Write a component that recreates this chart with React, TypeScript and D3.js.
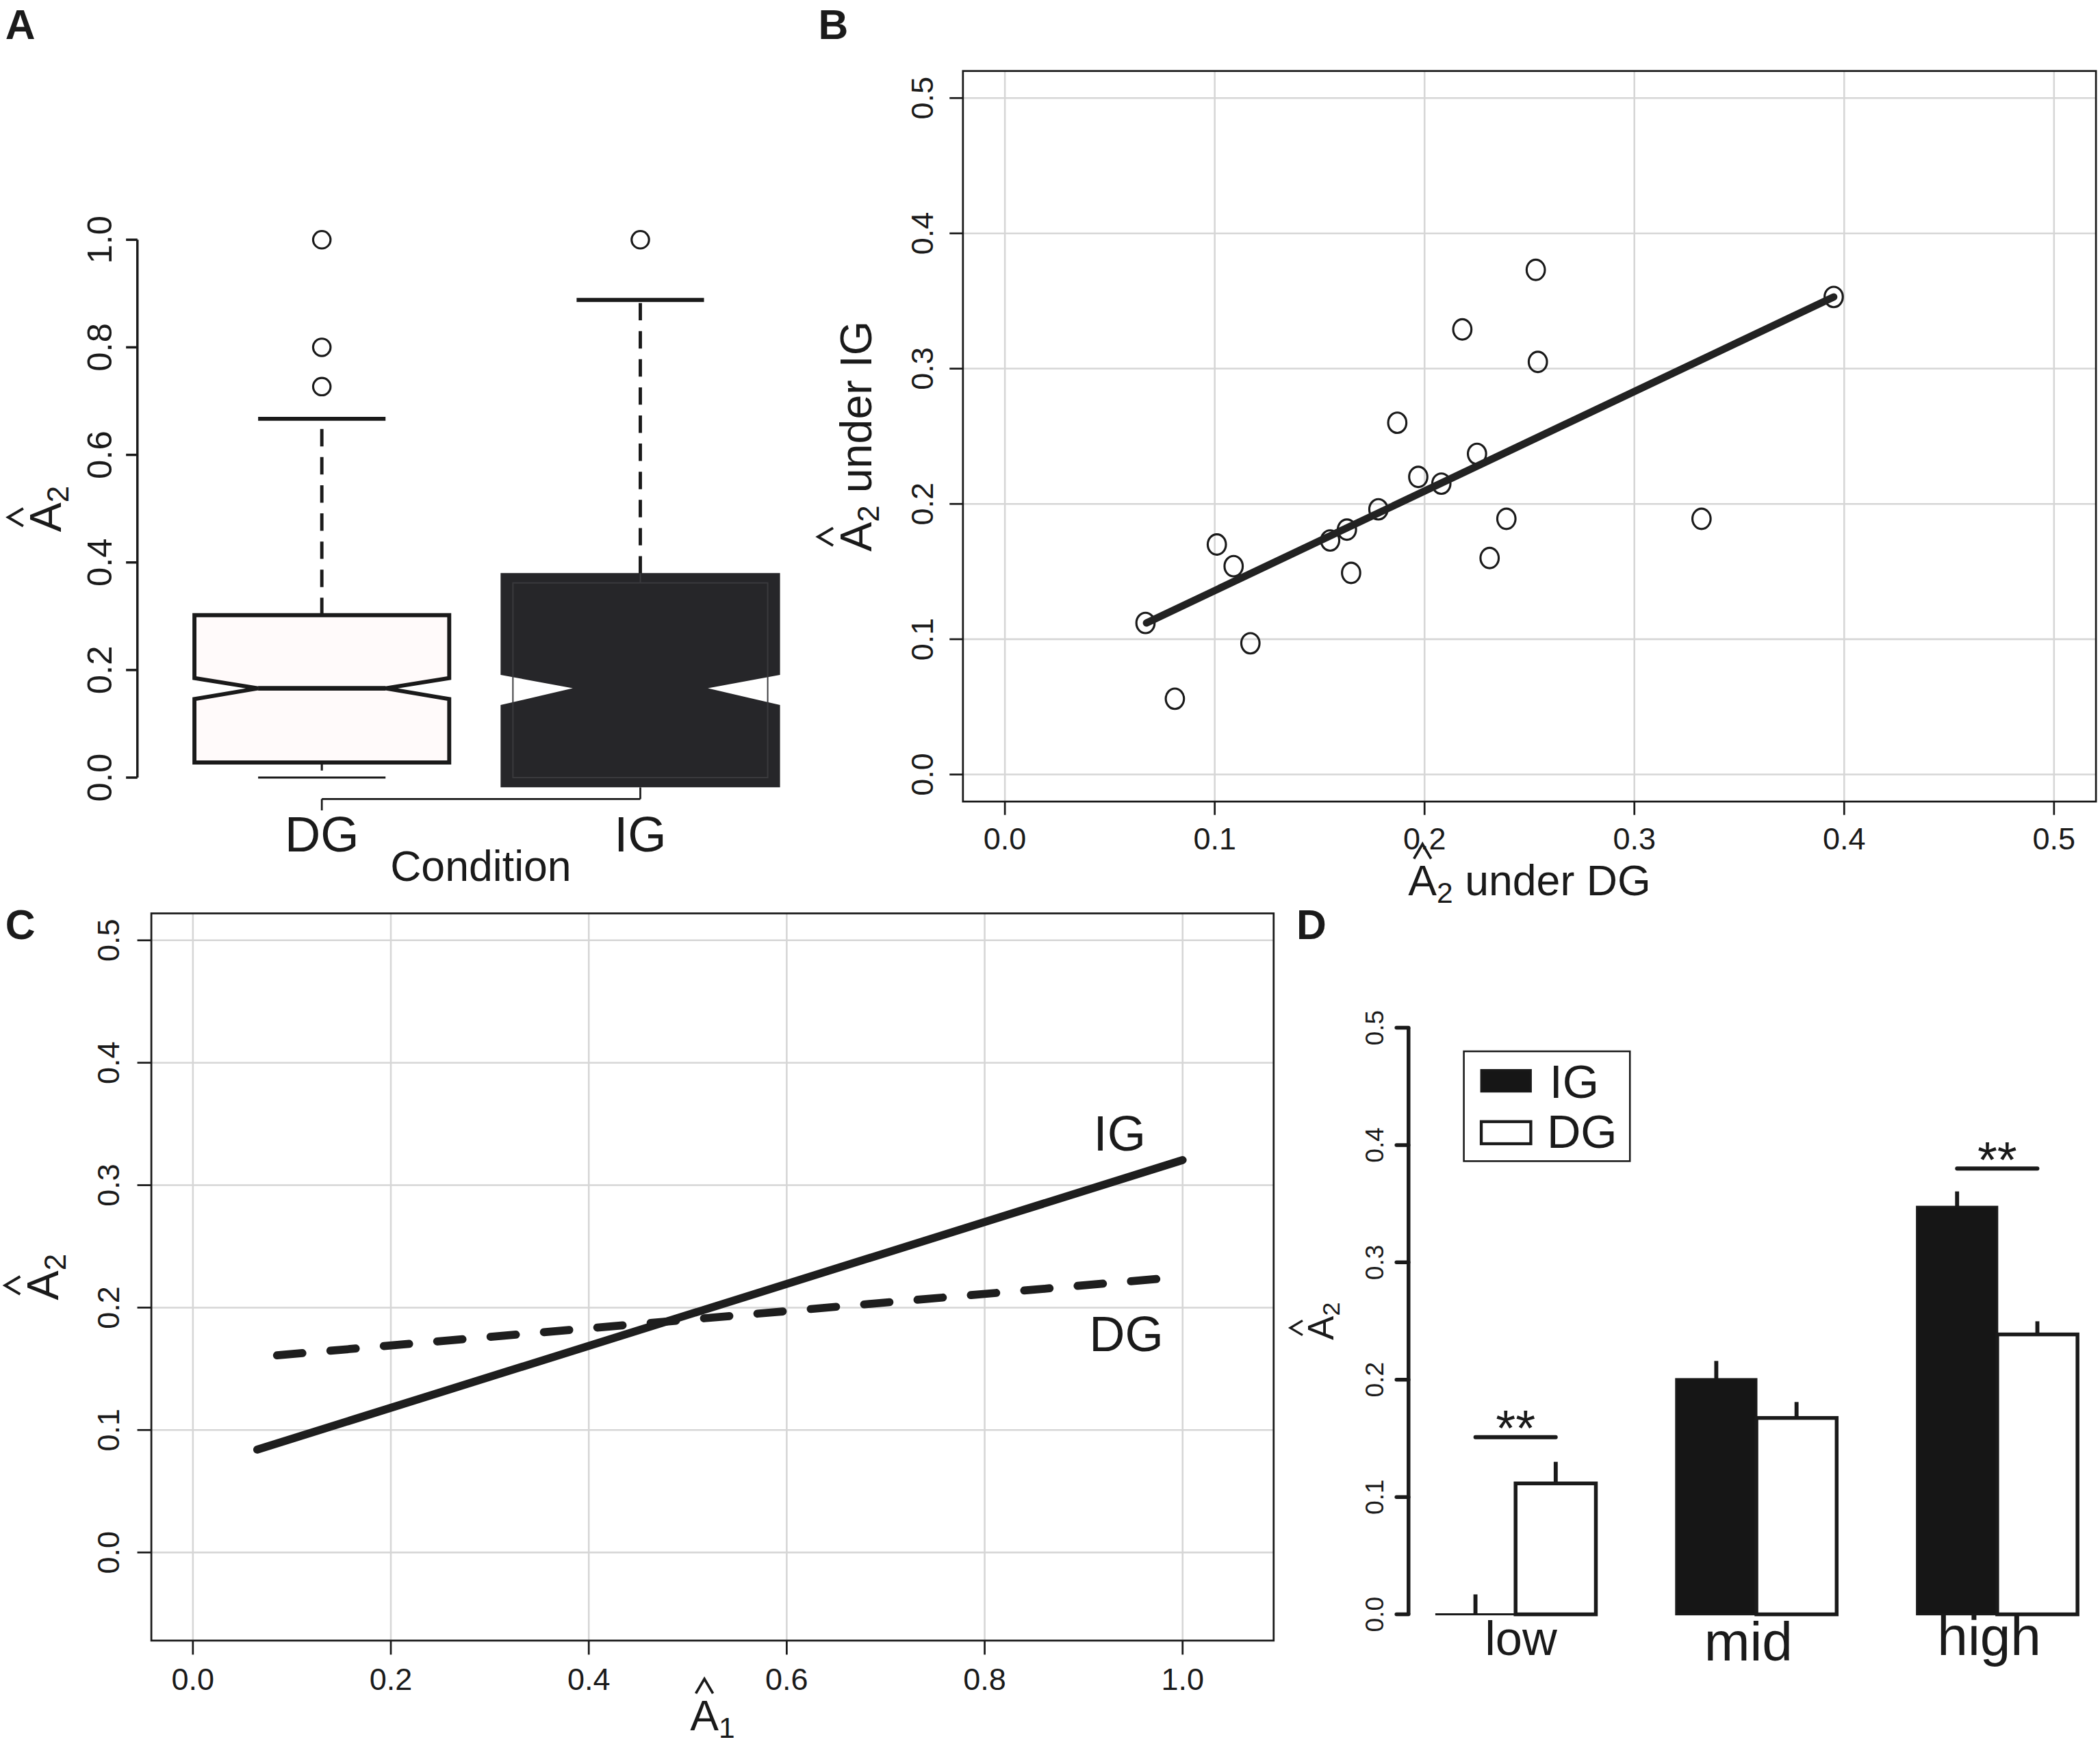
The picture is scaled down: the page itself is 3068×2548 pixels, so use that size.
import * as d3 from "d3";

// ---- panel A: notched boxplots of A2 by condition ----
const conditions = ["DG", "IG"];
const dgBox = { lower: 0, q1: 0.028, notchLo: 0.146, median: 0.166, notchHi: 0.185, q3: 0.302, upper: 0.667 };
const igBox = { lower: 0, q1: 0, notchLo: 0.135, median: 0.166, notchHi: 0.191, q3: 0.362, upper: 0.888 };
const dgOutliers = [1.0, 0.8, 0.727];
const igOutliers = [1.0];
const aTicks = [0, 0.2, 0.4, 0.6, 0.8, 1.0];

// ---- panel B: A2 under DG vs A2 under IG ----
const dgScores = [0.067, 0.081, 0.101, 0.109, 0.117, 0.155, 0.163, 0.165, 0.178, 0.187, 0.197, 0.208, 0.218, 0.225, 0.231, 0.239, 0.253, 0.254, 0.332, 0.395];
const igScores = [0.112, 0.056, 0.170, 0.154, 0.097, 0.173, 0.181, 0.149, 0.196, 0.260, 0.220, 0.215, 0.329, 0.237, 0.160, 0.189, 0.373, 0.305, 0.189, 0.353];
const fitX = [0.0675, 0.395];
const fitY = [0.112, 0.353];
const bTicks = [0, 0.1, 0.2, 0.3, 0.4, 0.5];

// ---- panel C: fitted A2 against A1 ----
const a1Ends = { IG: [0.065, 1.0], DG: [0.085, 0.983] };
const a2Ends = { IG: [0.084, 0.3205], DG: [0.161, 0.224] };
const cxTicks = [0, 0.2, 0.4, 0.6, 0.8, 1.0];
const cyTicks = [0, 0.1, 0.2, 0.3, 0.4, 0.5];

// ---- panel D: mean A2 by A1 level ----
const levels = ["low", "mid", "high"];
const groups = ["IG", "DG"];
const igMeans = [0, 0.2005, 0.3474];
const dgMeans = [0.1116, 0.1674, 0.2386];
const igSE = [0.017, 0.0155, 0.0131];
const dgSE = [0.0184, 0.0136, 0.0112];
const sigMarks = [
  { level: "low", y: 0.151, label: "**" },
  { level: "high", y: 0.38, label: "**" },
];
const dTicks = [0, 0.1, 0.2, 0.3, 0.4, 0.5];

const W = 1568;
const H = 1302.2;
const FONT = '"Liberation Sans", Arial, Helvetica, sans-serif';
const INK = "#1a1a1a";
const GRID = "#d6d6d6";
const fmt = d3.format(".1f");
// the level labels under panel D are not all set at the same size
const levelFont: Record<string, number> = { low: 36, mid: 41, high: 41 };

let ctx: CanvasRenderingContext2D | null = null;
function measure(text: string, size: number) {
  if (!ctx) ctx = document.createElement("canvas").getContext("2d");
  if (!ctx) return text.length * size * 0.55;
  ctx.font = `${size}px "Liberation Sans"`;
  return ctx.measureText(text).width;
}

// "A" with a hat and a subscript, optionally followed by more words (plotmath style)
function HatLabel({ x, y, size, sub, rest = "", rotate = false }: any) {
  const subSize = size * 0.68;
  const wA = measure("A", size);
  const wS = measure(sub, subSize);
  const wSp = rest ? measure(" ", size) : 0;
  const wR = rest ? measure(rest, size) : 0;
  const x0 = -(wA + wS + wSp + wR) / 2;
  const hx = x0 + wA / 2;
  const hb = -0.86 * size;
  const ht = -1.2 * size;
  const hw = 0.2 * size;
  return (
    <g transform={`translate(${x},${y})${rotate ? " rotate(-90)" : ""}`} fill={INK}>
      <text x={x0} y={0} fontSize={size}>A</text>
      <text x={x0 + wA} y={0.17 * size} fontSize={subSize}>{sub}</text>
      {rest ? <text x={x0 + wA + wS + wSp} y={0} fontSize={size}>{rest}</text> : null}
      <path d={`M${hx - hw},${hb} L${hx},${ht} L${hx + hw},${hb}`} fill="none" stroke={INK} strokeWidth={0.06 * size} />
    </g>
  );
}

function PanelA() {
  const x = d3.scalePoint<string>().domain(conditions).range([240.3, 478.1]);
  const y = d3.scaleLinear().domain([0, 1]).range([580.6, 179]);
  const step = x("IG")! - x("DG")!;
  const hw = step * 0.4;
  const cap = hw / 2;
  const axisX = 102.6;
  const bracketY = y(0) + 16;

  const notched = (cx: number, b: any, padX = 0, padY = 0, apex = hw / 2) => {
    const s = hw + padX;
    const top = y(b.q3) - padY;
    const bot = y(b.q1) + padY;
    return `M${cx - s},${top} L${cx + s},${top} L${cx + s},${y(b.notchHi)} L${cx + apex},${y(b.median)} L${cx + s},${y(b.notchLo)} L${cx + s},${bot} L${cx - s},${bot} L${cx - s},${y(b.notchLo)} L${cx - apex},${y(b.median)} L${cx - s},${y(b.notchHi)} Z`;
  };

  const dx = x("DG")!;
  const ix = x("IG")!;
  return (
    <g>
      <text x={4} y={29} fontSize={31} fontWeight={700} fill={INK}>A</text>
      {/* y axis */}
      <line x1={axisX} x2={axisX} y1={y(0)} y2={y(1)} stroke={INK} strokeWidth={1.8} />
      {aTicks.map((t) => (
        <g key={t}>
          <line x1={axisX - 8.5} x2={axisX} y1={y(t)} y2={y(t)} stroke={INK} strokeWidth={1.8} />
          <text transform={`translate(${83.5},${y(t)}) rotate(-90)`} textAnchor="middle" fontSize={26} fill={INK}>{fmt(t)}</text>
        </g>
      ))}
      <HatLabel x={45.7} y={380} size={33} sub="2" rotate />

      {/* DG whiskers */}
      <line x1={dx} x2={dx} y1={y(dgBox.q3)} y2={y(dgBox.upper)} stroke={INK} strokeWidth={2.5} strokeDasharray="13 8" />
      <line x1={dx} x2={dx} y1={y(dgBox.q1)} y2={y(dgBox.lower)} stroke={INK} strokeWidth={1.6} strokeDasharray="6 5" />
      <line x1={dx - cap} x2={dx + cap} y1={y(dgBox.upper)} y2={y(dgBox.upper)} stroke={INK} strokeWidth={3} />
      <line x1={dx - cap} x2={dx + cap} y1={y(dgBox.lower)} y2={y(dgBox.lower)} stroke={INK} strokeWidth={1.6} />
      <path d={notched(dx, dgBox)} fill="#fffafa" stroke={INK} strokeWidth={3} strokeLinejoin="miter" />
      <line x1={dx - hw / 2} x2={dx + hw / 2} y1={y(dgBox.median)} y2={y(dgBox.median)} stroke={INK} strokeWidth={3.5} />
      {dgOutliers.map((v) => (
        <circle key={v} cx={dx} cy={y(v)} r={6.5} fill="none" stroke={INK} strokeWidth={1.6} />
      ))}

      {/* IG whiskers */}
      <line x1={ix} x2={ix} y1={y(igBox.q3) - 7} y2={y(igBox.upper)} stroke={INK} strokeWidth={2.5} strokeDasharray="13 8" />
      <line x1={ix - cap} x2={ix + cap} y1={y(igBox.upper)} y2={y(igBox.upper)} stroke={INK} strokeWidth={3} />
      <path d={notched(ix, igBox, 9.2, 7.3, hw * 0.53)} fill="#262629" stroke="none" />
      <rect x={ix - hw} y={y(igBox.q3)} width={hw * 2} height={y(igBox.q1) - y(igBox.q3)} fill="none" stroke="#3a3a3d" strokeWidth={1} />
      <line x1={ix} x2={ix} y1={y(igBox.q3) - 7.3} y2={y(igBox.q3)} stroke="#3a3a3d" strokeWidth={1} />
      {igOutliers.map((v) => (
        <circle key={v} cx={ix} cy={y(v)} r={6.5} fill="none" stroke={INK} strokeWidth={1.6} />
      ))}

      {/* x axis bracket */}
      <line x1={dx} x2={ix} y1={bracketY} y2={bracketY} stroke={INK} strokeWidth={1.4} />
      <line x1={dx} x2={dx} y1={bracketY} y2={bracketY + 8.5} stroke={INK} strokeWidth={1.4} />
      <line x1={ix} x2={ix} y1={bracketY} y2={y(0) + 7.3} stroke={INK} strokeWidth={1.4} />
      {conditions.map((c) => (
        <text key={c} x={x(c)} y={636} textAnchor="middle" fontSize={37} fill={INK}>{c}</text>
      ))}
      <text x={359} y={658} textAnchor="middle" fontSize={32} fill={INK}>Condition</text>
    </g>
  );
}

function PanelB() {
  const x = d3.scaleLinear().domain([-0.02, 0.52]).range([719, 1565]);
  const y = d3.scaleLinear().domain([-0.02, 0.52]).range([598.5, 53]);
  const pts = dgScores.map((d, i) => ({ x: d, y: igScores[i] }));
  const fit = d3.line<number>().x((d) => x(d)).y((_, i) => y(fitY[i]));
  return (
    <g>
      <text x={611} y={29} fontSize={31} fontWeight={700} fill={INK}>B</text>
      {bTicks.map((t) => (
        <g key={t}>
          <line x1={x(t)} x2={x(t)} y1={y(-0.02)} y2={y(0.52)} stroke={GRID} strokeWidth={1.3} />
          <line x1={x(-0.02)} x2={x(0.52)} y1={y(t)} y2={y(t)} stroke={GRID} strokeWidth={1.3} />
        </g>
      ))}
      <rect x={719} y={53} width={1565 - 719} height={598.5 - 53} fill="none" stroke={INK} strokeWidth={1.4} />
      {bTicks.map((t) => (
        <g key={"t" + t}>
          <line x1={x(t)} x2={x(t)} y1={598.5} y2={608.5} stroke={INK} strokeWidth={1.4} />
          <text x={x(t)} y={634} textAnchor="middle" fontSize={23} fill={INK}>{fmt(t)}</text>
          <line x1={709} x2={719} y1={y(t)} y2={y(t)} stroke={INK} strokeWidth={1.4} />
          <text transform={`translate(${696.8},${y(t)}) rotate(-90)`} textAnchor="middle" fontSize={23} fill={INK}>{fmt(t)}</text>
        </g>
      ))}
      {pts.map((p, i) => (
        <ellipse key={i} cx={x(p.x)} cy={y(p.y)} rx={6.8} ry={7.6} fill="none" stroke={INK} strokeWidth={1.6} />
      ))}
      <path d={fit(fitX) || ""} fill="none" stroke="#222" strokeWidth={5.5} strokeLinecap="round" />
      <HatLabel x={650.4} y={(53 + 598.5) / 2} size={33} sub="2" rest="under IG" rotate />
      <HatLabel x={(719 + 1565) / 2} y={668.7} size={32} sub="2" rest="under DG" />
    </g>
  );
}

function PanelC() {
  const left = 113, right = 951, top = 682, bottom = 1225;
  const x = d3.scaleLinear().domain([-0.042, 1.092]).range([left, right]);
  const y = d3.scaleLinear().domain([-0.072, 0.522]).range([bottom, top]);
  const line = d3.line<number>();
  const seg = (k: "IG" | "DG") =>
    line(a1Ends[k].map((v, i) => [x(v), y(a2Ends[k][i])] as [number, number])) || "";
  return (
    <g>
      <text x={4} y={701} fontSize={31} fontWeight={700} fill={INK}>C</text>
      {cxTicks.map((t) => (
        <line key={"gx" + t} x1={x(t)} x2={x(t)} y1={top} y2={bottom} stroke={GRID} strokeWidth={1.3} />
      ))}
      {cyTicks.map((t) => (
        <line key={"gy" + t} x1={left} x2={right} y1={y(t)} y2={y(t)} stroke={GRID} strokeWidth={1.3} />
      ))}
      <rect x={left} y={top} width={right - left} height={bottom - top} fill="none" stroke={INK} strokeWidth={1.4} />
      {cxTicks.map((t) => (
        <g key={"tx" + t}>
          <line x1={x(t)} x2={x(t)} y1={bottom} y2={bottom + 10.5} stroke={INK} strokeWidth={1.4} />
          <text x={x(t)} y={1262} textAnchor="middle" fontSize={23} fill={INK}>{fmt(t)}</text>
        </g>
      ))}
      {cyTicks.map((t) => (
        <g key={"ty" + t}>
          <line x1={left - 10.5} x2={left} y1={y(t)} y2={y(t)} stroke={INK} strokeWidth={1.4} />
          <text transform={`translate(${88.9},${y(t)}) rotate(-90)`} textAnchor="middle" fontSize={23} fill={INK}>{fmt(t)}</text>
        </g>
      ))}
      <path d={seg("IG")} fill="none" stroke="#1e1e1e" strokeWidth={6} strokeLinecap="round" />
      <path d={seg("DG")} fill="none" stroke="#1e1e1e" strokeWidth={6} strokeLinecap="round" strokeDasharray="19 21" />
      <text x={836} y={859} textAnchor="middle" fontSize={37} fill={INK}>IG</text>
      <text x={841} y={1009} textAnchor="middle" fontSize={37} fill={INK}>DG</text>
      <HatLabel x={43.4} y={(top + bottom) / 2} size={33} sub="2" rotate />
      <HatLabel x={(left + right) / 2} y={1292} size={32} sub="1" />
    </g>
  );
}

function PanelD() {
  const axisX = 1051.7;
  const y = d3.scaleLinear().domain([0, 0.5]).range([1205.4, 767.4]);
  const x0 = d3.scaleBand<string>().domain(levels).range([1071.7, 1551.2]).paddingInner(1 / 3).paddingOuter(0);
  const x1 = d3.scaleBand<string>().domain(groups).range([0, x0.bandwidth()]);
  const bw = x1.bandwidth();
  const bars = levels.flatMap((lv, i) => [
    { lv, g: "IG", v: igMeans[i], se: igSE[i] },
    { lv, g: "DG", v: dgMeans[i], se: dgSE[i] },
  ]);
  return (
    <g>
      <text x={968} y={701} fontSize={31} fontWeight={700} fill={INK}>D</text>
      <line x1={axisX} x2={axisX} y1={y(0)} y2={y(0.5)} stroke={INK} strokeWidth={2.8} />
      {dTicks.map((t) => (
        <g key={t}>
          <line x1={axisX - 9} x2={axisX} y1={y(t)} y2={y(t)} stroke={INK} strokeWidth={2.8} strokeLinecap="round" />
          <text transform={`translate(${1033},${y(t)}) rotate(-90)`} textAnchor="middle" fontSize={19} fill={INK}>{fmt(t)}</text>
        </g>
      ))}
      <HatLabel x={995.8} y={y(0.25)} size={27} sub="2" rotate />
      {bars.map((b) => {
        const bx = x0(b.lv)! + x1(b.g)!;
        const cx = bx + bw / 2;
        const dark = b.g === "IG";
        return (
          <g key={b.lv + b.g}>
            <line x1={cx} x2={cx} y1={y(b.v)} y2={y(b.v + b.se)} stroke={INK} strokeWidth={3} />
            {b.v > 0 ? (
              <rect x={bx} y={y(b.v)} width={bw} height={y(0) - y(b.v)} fill={dark ? "#161616" : "#ffffff"} stroke={INK} strokeWidth={dark ? 1.5 : 2.8} />
            ) : (
              <line x1={bx} x2={bx + bw} y1={y(0)} y2={y(0)} stroke={INK} strokeWidth={1.5} />
            )}
          </g>
        );
      })}
      {sigMarks.map((s) => {
        const a = x0(s.level)! + x1("IG")! + bw / 2;
        const b = x0(s.level)! + x1("DG")! + bw / 2;
        return (
          <g key={s.level}>
            <line x1={a} x2={b} y1={y(s.y)} y2={y(s.y)} stroke={INK} strokeWidth={3} strokeLinecap="round" />
            <text x={(a + b) / 2} y={y(s.y) + 6.5} textAnchor="middle" fontSize={38} fill={INK}>{s.label}</text>
          </g>
        );
      })}
      {levels.map((lv) => (
        <text key={lv} x={x0(lv)! + x0.bandwidth() / 2 - (lv === "low" ? -4 : 6)} y={lv === "mid" ? 1240 : 1236} textAnchor="middle" fontSize={levelFont[lv]} fill={INK}>{lv}</text>
      ))}
      {/* legend */}
      <rect x={1093} y={785} width={124} height={82} fill="#fff" stroke={INK} strokeWidth={1.3} />
      <rect x={1106} y={799} width={37} height={16} fill="#161616" stroke={INK} strokeWidth={1.5} />
      <text x={1157} y={820} fontSize={35} fill={INK}>IG</text>
      <rect x={1106} y={837.5} width={37} height={16.5} fill="#fff" stroke={INK} strokeWidth={2.2} />
      <text x={1155} y={857} fontSize={35} fill={INK}>DG</text>
    </g>
  );
}

export default function App() {
  return (
    <svg
      width={3068}
      height={2548}
      viewBox={`0 0 ${W} ${H}`}
      style={{ position: "absolute", left: 0, top: 0, background: "#fff" }}
      fontFamily={FONT}
    >
      <rect x={0} y={0} width={W} height={H} fill="#fff" />
      <PanelA />
      <PanelB />
      <PanelC />
      <PanelD />
    </svg>
  );
}
